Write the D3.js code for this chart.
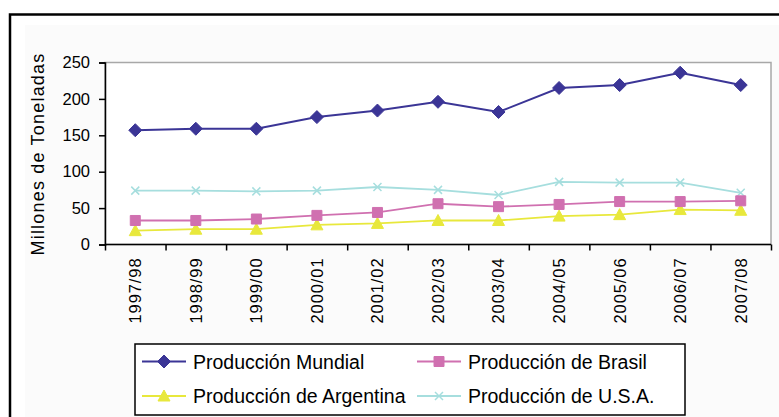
<!DOCTYPE html>
<html>
<head>
<meta charset="utf-8">
<script src="https://cdn.jsdelivr.net/npm/d3@7"></script>
<style>
  body { margin: 0; background: #fff; }
  text { font-family: "Liberation Sans", Arial, sans-serif; fill: #000; }
</style>
</head>
<body>
<div class="graph"></div>
<script>
// Data
var campanias = ["1997/98", "1998/99", "1999/00", "2000/01", "2001/02", "2002/03",
                 "2003/04", "2004/05", "2005/06", "2006/07", "2007/08"];
var mundial   = [157, 159, 159, 175, 184, 196, 182, 215, 219, 236, 219];
var brasil    = [33, 33, 35, 40, 44, 56, 52, 55, 59, 59, 60];
var argentina = [19, 21, 21, 27, 29, 33, 33, 39, 41, 48, 47];
var usa       = [74, 74, 73, 74, 79, 75, 68, 86, 85, 85, 71];
var yTicks    = [0, 50, 100, 150, 200, 250];

var series = [
    {name: "Producción Mundial", values: mundial, color: "#3b3596", marker: "diamond", lw: 2},
    {name: "Producción de Brasil", values: brasil, color: "#d070b0", marker: "square", lw: 1.8},
    {name: "Producción de Argentina", values: argentina, color: "#e8e83c", marker: "triangle", lw: 1.8},
    {name: "Producción de U.S.A.", values: usa, color: "#a6dede", marker: "x", lw: 1.8}
];

// Layout
var width = 779;
var height = 417;
var plot = {left: 105, right: 771, top: 62.5, bottom: 244.5};

var svg = d3.select(".graph").append("svg")
    .attr("width", width)
    .attr("height", height)
    .style("display", "block");

// Outer frame and chart area background
svg.append("rect")
    .attr("x", 25).attr("y", 25)
    .attr("width", 800).attr("height", 420)
    .attr("fill", "#fbfbfb");
svg.append("rect")
    .attr("x", 10).attr("y", 14.5)
    .attr("width", 820).attr("height", 440)
    .attr("fill", "none")
    .attr("stroke", "#000")
    .attr("stroke-width", 2.5);

// Plot area
svg.append("rect")
    .attr("x", plot.left).attr("y", plot.top)
    .attr("width", plot.right - plot.left).attr("height", plot.bottom - plot.top)
    .attr("fill", "#fff")
    .attr("stroke", "#a8a8a8")
    .attr("stroke-width", 1.5);

// Scales
var x = d3.scaleBand()
    .domain(campanias)
    .range([plot.left, plot.right]);
var xEdge = d3.scaleLinear()
    .domain([0, campanias.length])
    .range([plot.left, plot.right]);
var y = d3.scaleLinear()
    .domain([0, 250])
    .range([plot.bottom, plot.top]);

// Y axis
var yAxisG = svg.append("g")
    .attr("transform", "translate(" + plot.left + ",0)")
    .call(d3.axisLeft(y).tickValues(yTicks).tickSize(6).tickPadding(9));
yAxisG.selectAll("text").style("font-size", "16.5px");
yAxisG.selectAll("path, line").attr("stroke", "#000").attr("stroke-width", 1.5);

// X axis: ticks at category edges
var xTickG = svg.append("g")
    .attr("transform", "translate(0," + plot.bottom + ")")
    .call(d3.axisBottom(xEdge).tickValues(d3.range(campanias.length + 1)).tickFormat("").tickSize(6));
xTickG.selectAll("path, line").attr("stroke", "#000").attr("stroke-width", 1.5);
xTickG.select(".domain").attr("d", "M" + plot.left + ",0H" + plot.right);

// X labels, rotated
var xLabelG = svg.append("g")
    .attr("transform", "translate(0," + plot.bottom + ")")
    .call(d3.axisBottom(x).tickSize(0));
xLabelG.select(".domain").remove();
xLabelG.selectAll("text")
    .attr("transform", "rotate(-90)")
    .attr("x", -13)
    .attr("y", 0)
    .attr("dy", "0.36em")
    .style("text-anchor", "end")
    .style("font-size", "16.5px")
    .style("letter-spacing", "0.9px");

// Y title
svg.append("text")
    .attr("transform", "translate(44,154) rotate(-90)")
    .attr("text-anchor", "middle")
    .style("font-size", "18px")
    .style("letter-spacing", "1.2px")
    .text("Millones de Toneladas");

// Markers
function markerPath(type) {
    if (type === "diamond") return "M0,-6.5L6.5,0L0,6.5L-6.5,0Z";
    if (type === "square") return "M-5,-5H5V5H-5Z";
    if (type === "triangle") return "M0,-6L6,5H-6Z";
    return "M-4,-4L4,4M-4,4L4,-4";
}

var line = d3.line()
    .x(function (d, i) { return x(campanias[i]) + x.bandwidth() / 2; })
    .y(function (d) { return y(d); });

// Draw in reverse so Mundial is on top
series.slice().reverse().forEach(function (s) {
    svg.append("path")
        .attr("d", line(s.values))
        .attr("fill", "none")
        .attr("stroke", s.color)
        .attr("stroke-width", s.lw);
    svg.selectAll(null).data(s.values).enter().append("path")
        .attr("transform", function (d, i) {
            return "translate(" + (x(campanias[i]) + x.bandwidth() / 2) + "," + y(d) + ")";
        })
        .attr("d", markerPath(s.marker))
        .attr("fill", s.marker === "x" ? "none" : s.color)
        .attr("stroke", s.color)
        .attr("stroke-width", s.marker === "x" ? 1.5 : 1);
});

// Legend
var legend = svg.append("g");
legend.append("rect")
    .attr("x", 135).attr("y", 344)
    .attr("width", 550).attr("height", 71)
    .attr("fill", "#fff")
    .attr("stroke", "#000")
    .attr("stroke-width", 1.5);

var legendPos = [
    {x: 142, y: 361.5},
    {x: 417, y: 361.5},
    {x: 142, y: 396},
    {x: 417, y: 396}
];
series.forEach(function (s, i) {
    var p = legendPos[i];
    var g = legend.append("g").attr("transform", "translate(" + p.x + "," + p.y + ")");
    g.append("line")
        .attr("x1", 0).attr("x2", 44)
        .attr("stroke", s.color).attr("stroke-width", s.lw);
    g.append("path")
        .attr("transform", "translate(22,0)")
        .attr("d", markerPath(s.marker))
        .attr("fill", s.marker === "x" ? "none" : s.color)
        .attr("stroke", s.color)
        .attr("stroke-width", s.marker === "x" ? 1.5 : 1);
    g.append("text")
        .attr("x", 51)
        .attr("dy", "0.36em")
        .style("font-size", "19.5px")
        .text(s.name);
});
</script>
</body>
</html>
